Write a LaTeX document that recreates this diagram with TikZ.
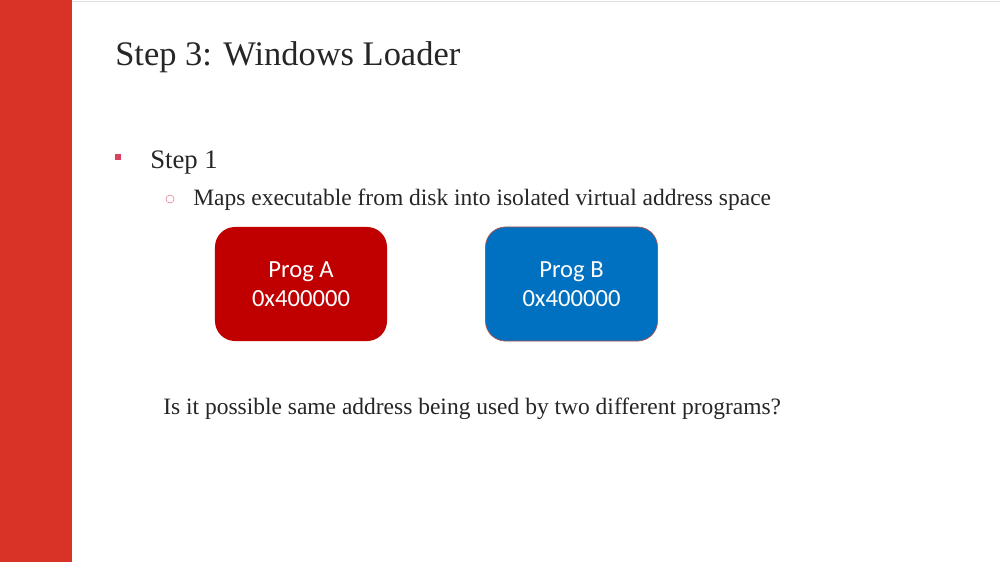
\documentclass[tikz,border=0pt]{standalone}
\usepackage{fontspec}
\setmainfont{Liberation Serif}
\newfontfamily\boxfont{Carlito}
\usetikzlibrary{positioning}
\definecolor{SlideBar}{HTML}{D93327}
\definecolor{SlideInk}{HTML}{262626}
\definecolor{SlideBullet}{HTML}{D9415F}
\definecolor{ProgRed}{HTML}{C00000}
\definecolor{ProgBlue}{HTML}{0070C0}
\definecolor{ProgEdge}{HTML}{B0504D}
\tikzset{
  slide/title/.style={anchor=base west, inner sep=0pt, text=SlideInk,
    font=\fontsize{24.5}{28}\selectfont},
  slide/level1/.style={anchor=base west, inner sep=0pt, text=SlideInk,
    font=\fontsize{19}{22}\selectfont},
  slide/level2/.style={anchor=base west, inner sep=0pt, text=SlideInk,
    font=\fontsize{16.7}{19}\selectfont},
  slide/prog/.style={rounded corners=5mm, minimum width=4.3cm,
    minimum height=2.85cm, text=white, align=center,
    font=\boxfont\fontsize{17.5}{20.5}\selectfont}
}
\begin{document}
\begin{tikzpicture}[x=0.025cm,y=-0.025cm]
  \useasboundingbox (0,0) rectangle (1000,562);
  \fill[white] (0,0) rectangle (1000,562);
  \fill[SlideBar] (0,0) rectangle (72,562);
  \draw[black!12,line width=.6pt] (72,1) -- (1000,1);
  % title and bullets
  \node[slide/title] (title) at (115,65) {Step 3: Windows Loader};
  \node[fill=SlideBullet,minimum size=1.7mm,inner sep=0pt] (sq) at (118,157) {};
  \node[slide/level1] (step) at (150,168) {Step 1};
  \node[draw=SlideBullet!70,circle,line width=.4pt,minimum size=2mm,inner sep=0pt] (ring) at (170,199) {};
  \node[slide/level2] (maps) at (193,205)
    {Maps executable from disk into isolated virtual address space};
  % the two programs
  \node[slide/prog,fill=ProgRed] (progA) at (301,284) {Prog A\\0x400000};
  \node[slide/prog,fill=ProgBlue,draw=ProgEdge,line width=.5pt] (progB) at (571.5,284) {Prog B\\0x400000};
  \node[slide/level2] (question) at (163,414)
    {Is it possible same address being used by two different programs?};
\end{tikzpicture}
\end{document}
